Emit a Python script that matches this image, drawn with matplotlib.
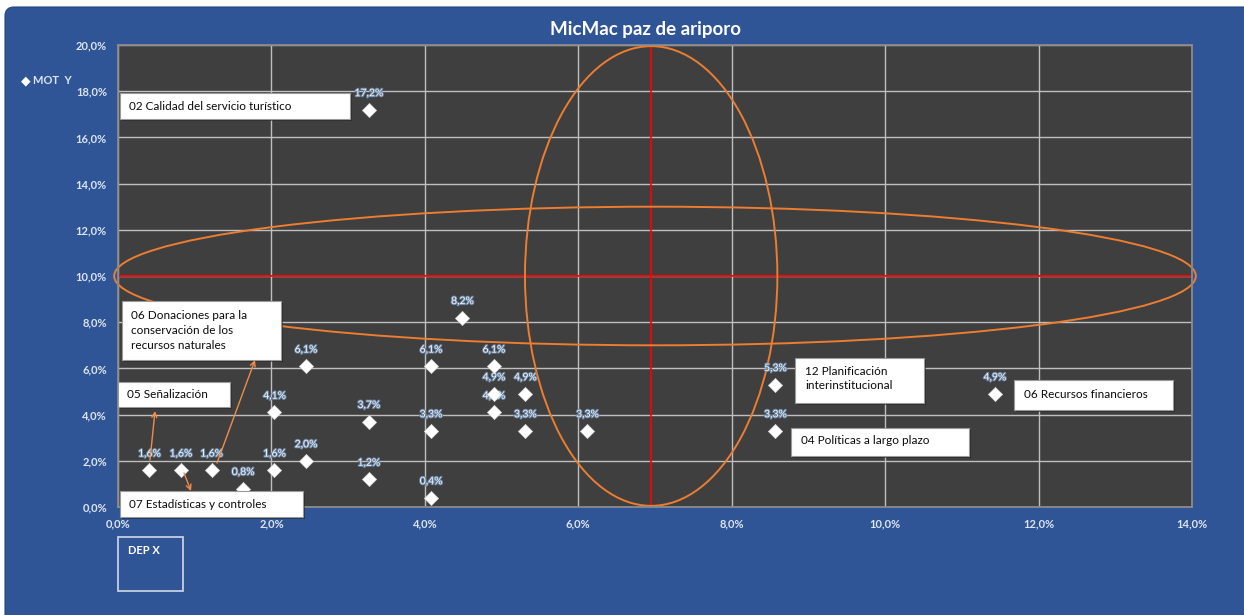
import matplotlib
matplotlib.use("Agg")
import matplotlib.pyplot as plt
from matplotlib.patches import Ellipse, Rectangle, FancyBboxPatch
import matplotlib.patheffects as pe
from matplotlib.ticker import FuncFormatter

# ---------------------------------------------------------------- data
# dependence (X) and motricity (Y) of each variable, in percent
dep_x = [0.41, 0.82, 1.22, 1.63, 2.04, 2.04, 2.45, 2.45, 3.27, 3.27, 3.27, 4.08,
         4.08, 4.08, 4.49, 4.90, 4.90, 4.90, 5.31, 5.31, 6.12, 8.57, 8.57, 11.43]
mot_y = [1.6, 1.6, 1.6, 0.8, 1.6, 4.1, 2.0, 6.1, 1.2, 3.7, 17.2, 0.4,
         3.3, 6.1, 8.2, 4.1, 4.9, 6.1, 3.3, 4.9, 3.3, 3.3, 5.3, 4.9]

x_ticks = [0, 2, 4, 6, 8, 10, 12, 14]
y_ticks = [0, 2, 4, 6, 8, 10, 12, 14, 16, 18, 20]

# quadrant dividers
mean_dep = 6.95
mean_mot = 10.0

# highlight ellipses: (centre x, centre y, width, height)
ellipse_h = (7.0, 10.0, 14.1, 6.0)
ellipse_v = (6.95, 10.0, 3.29, 19.9)

title = "MicMac paz de ariporo"

# ---------------------------------------------------------------- style
BLUE = "#2F5597"
PLOT_BG = "#3f3f3f"
GRID = "#bfbfbf"
ORANGE = "#ED7D31"
TICK_COL = "#dce4f0"
FONT = ["Lato", "DejaVu Sans"]

W, H = 1244, 615
fig = plt.figure(figsize=(W / 100, H / 100), dpi=100, facecolor="white")

# chart-area background (pixel coordinates)
ax_bg = fig.add_axes([0, 0, 1, 1], zorder=0)
ax_bg.set_xlim(0, W)
ax_bg.set_ylim(H, 0)
ax_bg.axis("off")
ax_bg.add_patch(FancyBboxPatch((5, 7), W + 40, H + 40,
                               boxstyle="round,pad=0,rounding_size=9",
                               fc=BLUE, ec="#24467f", lw=0.8))

# ---------------------------------------------------------------- plot area
ax = fig.add_axes([118 / W, 1 - 507 / H, (1192 - 118) / W, (507 - 45) / H], zorder=1)
ax.set_facecolor(PLOT_BG)
ax.set_xlim(x_ticks[0], x_ticks[-1])
ax.set_ylim(y_ticks[0], y_ticks[-1])
ax.set_xticks(x_ticks)
ax.set_yticks(y_ticks)
pct = FuncFormatter(lambda v, _: f"{v:.1f}%".replace(".", ","))
ax.xaxis.set_major_formatter(pct)
ax.yaxis.set_major_formatter(pct)
ax.tick_params(length=0, pad=8, labelsize=8, labelcolor=TICK_COL)
for lab in ax.get_xticklabels() + ax.get_yticklabels():
    lab.set_fontfamily(FONT)
    lab.set_fontweight("bold")
ax.grid(True, color=GRID, lw=1.0)
ax.set_axisbelow(True)
for sp in ax.spines.values():
    sp.set_color("#8a8a8a")
    sp.set_linewidth(1.3)

# quadrant lines
ax.plot([mean_dep, mean_dep], [y_ticks[0], y_ticks[-1]], color="#ff0000", lw=1.2, zorder=2)
ax.plot([x_ticks[0], x_ticks[-1]], [mean_mot, mean_mot], color="#ff0000", lw=1.3, zorder=2)

# ellipses
for cx, cy, w, h in (ellipse_h, ellipse_v):
    ax.add_patch(Ellipse((cx, cy), w, h, fill=False, ec=ORANGE, lw=1.4,
                         clip_on=False, zorder=2.5))

# points and value labels
ax.scatter(dep_x, mot_y, marker="D", s=52, c="white", edgecolors="#d8d8d8",
           linewidths=0.5, zorder=4)
glow = [pe.withStroke(linewidth=1.4, foreground="#66809f")]
for x, y in zip(dep_x, mot_y):
    ax.annotate(f"{y:.1f}%".replace(".", ","), (x, y), xytext=(0, 11.5),
                textcoords="offset points", ha="center", va="center",
                fontsize=7.5, color="#f4f6fa", family=FONT,
                path_effects=glow, zorder=3)

# ---------------------------------------------------------------- overlay (pixels)
ov = fig.add_axes([0, 0, 1, 1], zorder=5)
ov.set_xlim(0, W)
ov.set_ylim(H, 0)
ov.axis("off")
ov.patch.set_alpha(0)

ov.text(645, 30, title, ha="center", va="center", fontsize=13.5,
        fontweight="bold", color="white", family=FONT)

ov.text(26, 81, "◆", ha="center", va="center", fontsize=9, color="white",
        family=["DejaVu Sans"])
ov.text(33, 81, "MOT  Y", ha="left", va="center", fontsize=8,
        fontweight="bold", color=TICK_COL, family=FONT)

ov.add_patch(Rectangle((118, 537), 65, 54, fill=False, ec="#c5cede", lw=1.3))
ov.text(128, 550, "DEP X", ha="left", va="center", fontsize=8,
        fontweight="bold", color="white", family=FONT)


def note(x0, y0, x1, y1, text, tx, ty, ls=1.2):
    ov.add_patch(Rectangle((x0 + 2, y0 + 2), x1 - x0, y1 - y0, fc="#1c1c1c",
                           ec="none", alpha=0.55))
    ov.add_patch(Rectangle((x0, y0), x1 - x0, y1 - y0, fc="white",
                           ec="#9a9a9a", lw=0.8))
    ov.text(tx, ty, text, ha="left", va="center", fontsize=8.5, color="#0a0a0a",
            family=FONT, linespacing=ls)


note(120, 93, 350, 119, "02 Calidad del servicio turístico", 129, 106)
note(122, 301, 281, 360,
     "06 Donaciones para la\nconservación de los\nrecursos naturales", 131, 330.5, 1.4)
note(118, 382, 230, 407, "05 Señalización", 127, 394)
note(120, 491, 303, 517, "07 Estadísticas y controles", 129, 505)
note(795, 358, 924, 403, "12 Planificación\ninterinstitucional", 805, 378.5, 1.3)
note(1014, 380, 1173, 410, "06 Recursos financieros", 1024, 394)
note(791, 428, 969, 456, "04 Políticas a largo plazo", 801, 441)

arrow = dict(arrowstyle="->", color="#F08C4A", lw=1.0, mutation_scale=9,
             shrinkA=0, shrinkB=0)
ov.annotate("", xy=(155, 411), xytext=(150, 460), arrowprops=arrow)
ov.annotate("", xy=(191, 491), xytext=(184, 473), arrowprops=arrow)
ov.annotate("", xy=(255, 360), xytext=(217, 463), arrowprops=arrow)

fig.savefig("out.png", dpi=100, facecolor="white")
